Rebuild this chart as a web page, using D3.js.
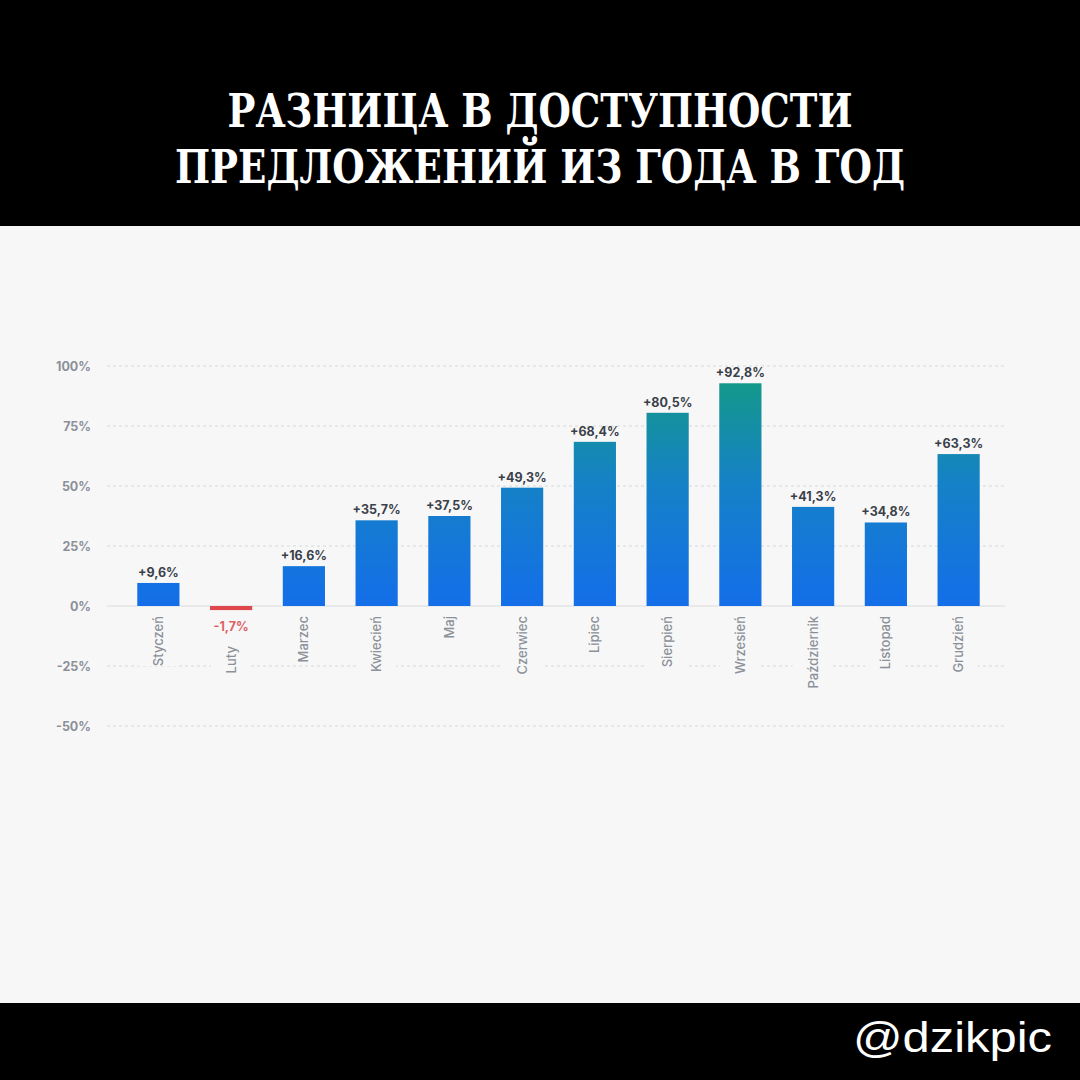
<!DOCTYPE html>
<html>
<head>
<meta charset="utf-8">
<script src="https://cdn.jsdelivr.net/npm/d3@7"></script>
<style>
    html, body { margin: 0; padding: 0; background: #000; }
    svg { display: block; }
</style>
</head>
<body>
<div id="chart"></div>
<script>
const titleLines = ['РАЗНИЦА В ДОСТУПНОСТИ', 'ПРЕДЛОЖЕНИЙ ИЗ ГОДА В ГОД'];
const months = ['Styczeń', 'Luty', 'Marzec', 'Kwiecień', 'Maj', 'Czerwiec', 'Lipiec', 'Sierpień', 'Wrzesień', 'Październik', 'Listopad', 'Grudzień'];
const changes = [9.6, -1.7, 16.6, 35.7, 37.5, 49.3, 68.4, 80.5, 92.8, 41.3, 34.8, 63.3];
const yTicks = [100, 75, 50, 25, 0, -25, -50];
const handle = '@dzikpic';

const width = 1080;
const height = 1080;

const svg = d3.select('#chart').append('svg')
    .attr('width', width)
    .attr('height', height);

// bands: black header, light body, black footer
svg.append('rect').attr('width', width).attr('height', height).attr('fill', '#000');
svg.append('rect').attr('y', 226).attr('width', width).attr('height', 777).attr('fill', '#f7f7f7');

const titleWidths = [625, 730];
svg.selectAll('.title-line')
    .data(titleLines)
    .enter()
    .append('text')
    .attr('class', 'title-line')
    .attr('x', width / 2)
    .attr('y', (d, i) => 127 + i * 56)
    .attr('text-anchor', 'middle')
    .attr('textLength', (d, i) => titleWidths[i])
    .attr('lengthAdjust', 'spacingAndGlyphs')
    .attr('fill', '#fff')
    .style('font-family', '"DejaVu Serif Condensed", "DejaVu Serif", serif')
    .style('font-stretch', 'condensed')
    .style('font-weight', 'bold')
    .style('font-size', '47px')
    .text((d) => d);

svg.append('text')
    .attr('x', 1052)
    .attr('y', 1052)
    .attr('text-anchor', 'end')
    .attr('textLength', 199)
    .attr('lengthAdjust', 'spacingAndGlyphs')
    .attr('fill', '#fff')
    .style('font-family', '"Liberation Sans", Arial, sans-serif')
    .style('font-size', '43px')
    .text(handle);

// chart
const xScale = d3.scaleBand()
    .domain(months)
    .range([122, 995])
    .paddingInner(0.42)
    .paddingOuter(0.21);

const yScale = d3.scaleLinear()
    .domain([-50, 100])
    .range([726, 366]);

const defs = svg.append('defs');
const gradient = defs.append('linearGradient')
    .attr('id', 'bar-gradient')
    .attr('gradientUnits', 'userSpaceOnUse')
    .attr('x1', 0).attr('x2', 0)
    .attr('y1', yScale(0)).attr('y2', yScale(95));
gradient.append('stop').attr('offset', '0%').attr('stop-color', '#146ee9');
gradient.append('stop').attr('offset', '55%').attr('stop-color', '#1582c6');
gradient.append('stop').attr('offset', '100%').attr('stop-color', '#139987');

const chartGroup = svg.append('g');

const labelFont = 'Inter, "Noto Sans", sans-serif';

// grid
chartGroup.append('g')
    .selectAll('line')
    .data(yTicks.filter((t) => t !== 0))
    .enter()
    .append('line')
    .attr('x1', 107)
    .attr('x2', 1005)
    .attr('y1', (d) => yScale(d))
    .attr('y2', (d) => yScale(d))
    .attr('stroke', '#d6d8dc')
    .attr('stroke-width', 1)
    .attr('stroke-dasharray', '3,3');

const yAxis = chartGroup.append('g')
    .attr('transform', 'translate(93,0)')
    .call(d3.axisLeft(yScale).tickValues(yTicks).tickSize(0).tickPadding(2).tickFormat((d) => `${d}%`))
    .call((group) => group.select('.domain').remove());
yAxis.selectAll('text')
    .attr('fill', '#8b9099')
    .style('font-family', labelFont)
    .style('font-weight', '700')
    .style('font-size', '12.5px');

// month labels (with a background that breaks the grid)
const monthGroups = chartGroup.selectAll('.month-label')
    .data(months.map((month, i) => ({ month, value: changes[i] })))
    .enter()
    .append('g')
    .attr('class', 'month-label')
    .attr('transform', (d) => {
        const start = d.value < 0 ? yScale(d.value) + 36 : yScale(0) + 10;
        return `translate(${xScale(d.month) + xScale.bandwidth() / 2 + 4.5},${start}) rotate(-90)`;
    });

const monthBg = monthGroups.append('rect').attr('fill', '#f7f7f7');
const monthText = monthGroups.append('text')
    .attr('text-anchor', 'end')
    .attr('fill', '#8b9099')
    .style('font-family', labelFont)
    .style('font-weight', '500')
    .style('font-size', '13px')
    .text((d) => d.month);

monthText.each(function placeBg() {
    const box = this.getBBox();
    d3.select(this.previousSibling)
        .attr('x', box.x)
        .attr('y', box.y - 12)
        .attr('width', box.width)
        .attr('height', box.height + 24);
});

// zero line
chartGroup.append('line')
    .attr('x1', 107)
    .attr('x2', 1005)
    .attr('y1', yScale(0))
    .attr('y2', yScale(0))
    .attr('stroke', '#d9dbdf')
    .attr('stroke-width', 1);

// bars
chartGroup.selectAll('.bar')
    .data(months.map((month, i) => ({ month, value: changes[i] })))
    .enter()
    .append('rect')
    .attr('class', 'bar')
    .attr('x', (d) => xScale(d.month))
    .attr('y', (d) => yScale(Math.max(0, d.value)))
    .attr('width', xScale.bandwidth())
    .attr('height', (d) => Math.abs(yScale(d.value) - yScale(0)))
    .attr('fill', (d) => d.value < 0 ? '#e0474c' : 'url(#bar-gradient)');

const formatValue = (v) => `${v > 0 ? '+' : ''}${String(v).replace('.', ',')}%`;

chartGroup.selectAll('.bar-value')
    .data(months.map((month, i) => ({ month, value: changes[i] })))
    .enter()
    .append('text')
    .attr('class', 'bar-value')
    .attr('x', (d) => xScale(d.month) + xScale.bandwidth() / 2)
    .attr('y', (d) => d.value < 0 ? yScale(d.value) + 21 : yScale(d.value) - 6)
    .attr('text-anchor', 'middle')
    .attr('fill', (d) => d.value < 0 ? '#e06065' : '#3a3f4a')
    .style('font-family', labelFont)
    .style('font-weight', '700')
    .style('font-size', '12.5px')
    .text((d) => formatValue(d.value));
</script>
</body>
</html>
